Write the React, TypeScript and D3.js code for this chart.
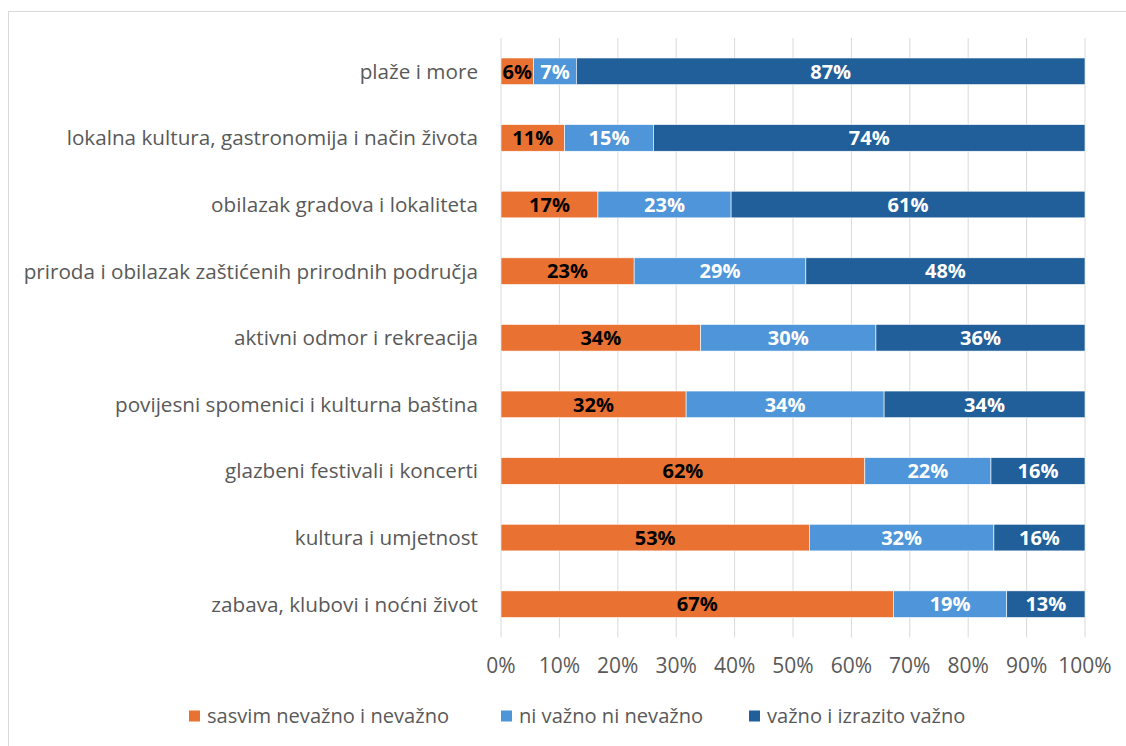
import React from "react";
import * as d3 from "d3";

const categories = [
  "plaže i more",
  "lokalna kultura, gastronomija i način života",
  "obilazak gradova i lokaliteta",
  "priroda i obilazak zaštićenih prirodnih područja",
  "aktivni odmor i rekreacija",
  "povijesni spomenici i kulturna baština",
  "glazbeni festivali i koncerti",
  "kultura i umjetnost",
  "zabava, klubovi i noćni život",
];

const seriesNames = ["sasvim nevažno i nevažno", "ni važno ni nevažno", "važno i izrazito važno"];

const unimportant = [5.6, 10.9, 16.6, 22.8, 34.2, 31.7, 62.3, 52.8, 67.2];
const neutral = [7.3, 15.2, 22.8, 29.4, 30.0, 33.9, 21.6, 31.6, 19.4];
const important = [87.1, 73.9, 60.6, 47.8, 35.8, 34.4, 16.1, 15.6, 13.4];

const xTicks = [0, 10, 20, 30, 40, 50, 60, 70, 80, 90, 100];

const colors = ["#E97132", "#4E95D9", "#215F9A"];
const labelColors = ["#000000", "#ffffff", "#ffffff"];

const FONT = "'Open Sans', 'Liberation Sans', Arial, sans-serif";

export default function App() {
  const width = 1126;
  const height = 746;
  const x = d3.scaleLinear().domain([0, 100]).range([501, 1085]);
  const y = d3.scaleBand<string>().domain(categories).range([38, 637.5]).paddingInner(0.6).paddingOuter(0.3);

  const series = [unimportant, neutral, important];
  const rows = categories.map((c, i) => ({ cat: c, v: series.map((s) => s[i]) }));
  const stack = d3
    .stack<{ cat: string; v: number[] }, number>()
    .keys([0, 1, 2])
    .value((d, k) => d.v[k]);
  const stacked = stack(rows);

  const legendX = [189, 501, 749];

  return (
    <svg
      width={width}
      height={height}
      style={{ position: "absolute", left: 0, top: 0, display: "block", background: "#fff" }}
      fontFamily={FONT}
    >
      <rect x={8.5} y={11.5} width={1200} height={800} fill="#fff" stroke="#d9d9d9" strokeWidth={1} />
      {xTicks.map((t) => (
        <line key={t} x1={x(t)} x2={x(t)} y1={38} y2={637.5} stroke="#d9d9d9" strokeWidth={1} />
      ))}
      {stacked.map((layer, si) =>
        layer.map((d, i) => (
          <rect
            key={`${si}-${i}`}
            x={x(d[0])}
            y={y(categories[i])}
            width={x(d[1]) - x(d[0])}
            height={y.bandwidth()}
            fill={colors[si]}
            stroke="#ffffff"
            strokeWidth={0.6}
          />
        ))
      )}
      {stacked.map((layer, si) =>
        layer.map((d, i) => (
          <text
            key={`l${si}-${i}`}
            x={(x(d[0]) + x(d[1])) / 2}
            y={(y(categories[i]) as number) + y.bandwidth() / 2}
            dy="0.36em"
            textAnchor="middle"
            fontSize={20}
            fontWeight="bold"
            fill={labelColors[si]}
          >
            {d3.format(".0f")(Math.round(d[1] - d[0]))}%
          </text>
        ))
      )}
      {categories.map((c) => (
        <text
          key={c}
          x={478}
          y={(y(c) as number) + y.bandwidth() / 2}
          dy="0.36em"
          textAnchor="end"
          fontSize={20.7}
          fill="#595959"
        >
          {c}
        </text>
      ))}
      {xTicks.map((t) => (
        <text key={`t${t}`} x={x(t)} y={665} dy="0.36em" textAnchor="middle" fontSize={21} fill="#595959">
          {t}%
        </text>
      ))}
      {seriesNames.map((n, i) => (
        <g key={n}>
          <rect x={legendX[i]} y={710.5} width={11} height={11} fill={colors[i]} />
          <text x={legendX[i] + 18} y={716} dy="0.36em" fontSize={20.1} fill="#595959">
            {n}
          </text>
        </g>
      ))}
    </svg>
  );
}
